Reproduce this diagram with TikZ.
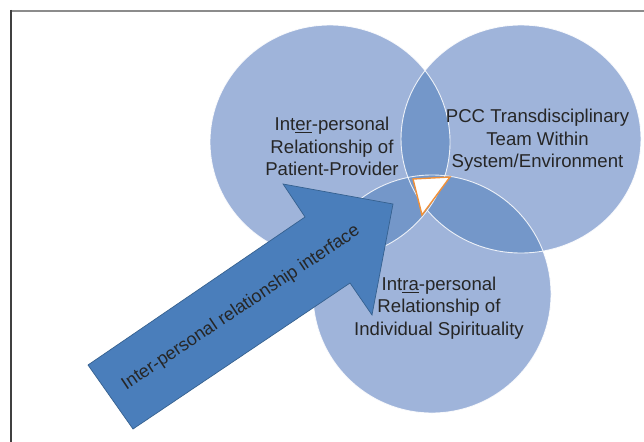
\documentclass[tikz,border=0pt]{standalone}
\usepackage{fontspec}
\setmainfont{Liberation Sans}
\definecolor{vennlight}{HTML}{9FB4DA}
\definecolor{venndark}{HTML}{7497C9}
\definecolor{arrowblue}{HTML}{4A7EBB}
\definecolor{arrowedge}{HTML}{36618F}
\definecolor{marker}{HTML}{F0913A}
\definecolor{ink}{HTML}{262626}
\begin{document}
\begin{tikzpicture}[x=1pt,y=-1pt,
  leftset/.style={insert path={(330,142) ellipse [x radius=120, y radius=117]}},
  rightset/.style={insert path={(521,139) ellipse [x radius=120, y radius=114]}},
  lowset/.style={insert path={(432,294) ellipse [x radius=119, y radius=119]}},
  rim/.style={draw=white, draw opacity=0.85, line width=0.9pt},
  lbl/.style={text=ink, align=center, inner sep=0pt,
    font=\fontsize{18.6}{22.4}\selectfont}]
\useasboundingbox (0,0) rectangle (644,441);
\fill[white] (0,0) rectangle (644,441);

% frame
\draw[black!45, line width=2pt] (10,11) -- (660,11);
\draw[black!75, line width=1.5pt] (11,10) -- (11,460);

% the three sets
\fill[vennlight, leftset];
\fill[vennlight, rightset];
\fill[vennlight, lowset];

% pairwise overlaps
\begin{scope}
  \clip[leftset];
  \fill[venndark, rightset];
  \fill[venndark, lowset];
\end{scope}
\begin{scope}
  \clip[rightset];
  \fill[venndark, lowset];
\end{scope}

% set outlines
\path[rim, leftset];
\path[rim, rightset];
\path[rim, lowset];

% centre marker
\coordinate (m1) at (413,179);
\coordinate (m2) at (450,177);
\coordinate (m3) at (422,215);
\draw[marker, fill=white, line width=1.4pt, line join=miter] (m1) -- (m2) -- (m3) -- cycle;

% set labels
\node[lbl] (inter) at (332,146.5)
  {Int\underline{er}-personal\\Relationship of\\Patient-Provider\hspace{17pt}};
\node[lbl] (team) at (537.5,140.5)
  {PCC Transdisciplinary\\Team Within\\System/Environment\hspace{17pt}};
\node[lbl] (intra) at (439,308)
  {Int\underline{ra}-personal\\Relationship of\\Individual Spirituality\hspace{37pt}};

% block arrow
\coordinate (a1) at (88,365);
\coordinate (a2) at (305,217);
\coordinate (a3) at (283,184);
\coordinate (a4) at (393,204);
\coordinate (a5) at (372,315);
\coordinate (a6) at (350,283);
\coordinate (a7) at (133,429);
\draw[arrowedge, fill=arrowblue, line width=0.7pt, line join=miter]
  (a1) -- (a2) -- (a3) -- (a4) -- (a5) -- (a6) -- (a7) -- cycle;
\node[lbl, rotate=33.8, font=\fontsize{18}{22}\selectfont] (iface) at (241,308)
  {Inter-personal relationship interface};
\end{tikzpicture}
\end{document}
